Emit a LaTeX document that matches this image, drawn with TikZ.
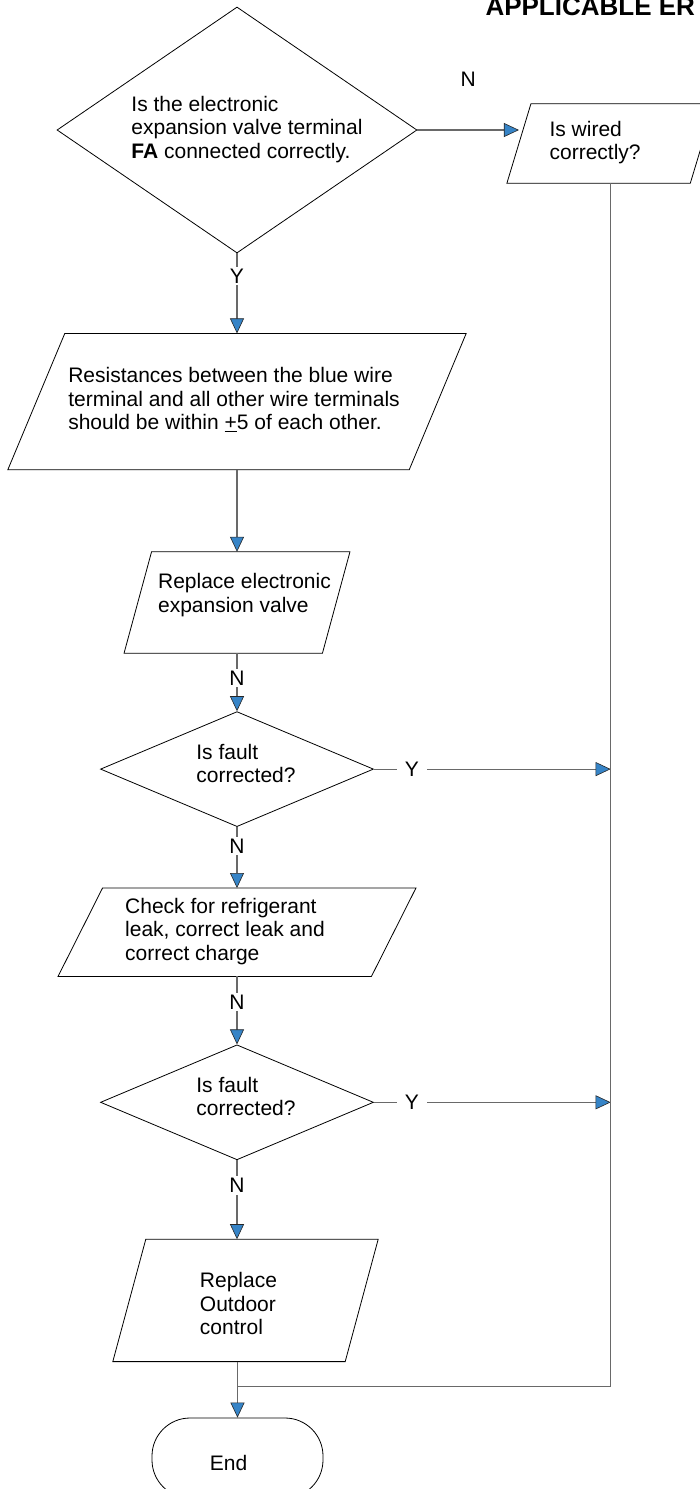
\documentclass[tikz,border=0pt]{standalone}
\usepackage{fontspec}
\setmainfont{Liberation Sans}
\usepackage{tikz}
\usetikzlibrary{shapes, arrows.meta, positioning, calc}
\definecolor{flow-blue}{RGB}{54,132,199}
\definecolor{flow-line}{RGB}{105,105,105}
% text block with extra room on the left (#1) and right (#2)
\newcommand{\shiftlines}[3]{\begin{tabular}{@{\hspace{#1}}l@{\hspace{#2}}}#3\end{tabular}}
% slanted outline round a box node, top edge pushed right by #2, bottom edge left by #2
\newcommand{\slantbox}[2]{\draw[boxline] ($(#1.south west)+(-#2,0)$) -- ($(#1.south east)+(-#2,0)$) -- ($(#1.north east)+(#2,0)$) -- ($(#1.north west)+(#2,0)$) -- cycle;}

\begin{document}
\begin{tikzpicture}[
    x=1pt, y=1pt,
    font=\fontsize{21}{23.5}\selectfont,
    boxline/.style={draw=black, line width=0.8pt},
    decide/.style={diamond, boxline, inner sep=0pt},
    pbox/.style={rectangle, inner sep=0pt},
    term/.style={rectangle, rounded corners=38pt, boxline, inner sep=0pt, minimum width=171pt, minimum height=80pt},
    conn/.style={draw=flow-line, line width=1.2pt},
    arrow/.style={conn, -{Triangle[length=15pt, width=14pt, fill=flow-blue, color=black!85, line width=0.6pt]}},
    yn/.style={fill=white, inner xsep=8pt, inner ysep=2pt}
]
    \useasboundingbox (0,0) rectangle (700,-1489);
    \clip (0,0) rectangle (700,-1489);

    \node[font=\fontsize{26}{30}\selectfont\bfseries, anchor=base west] (title) at (482,-15) {APPLICABLE ER};

    \node[decide, minimum width=360pt, minimum height=246pt, aspect=1.48] (valve) at (237,-130) {\shiftlines{20pt}{0pt}{Is the electronic\\expansion valve terminal\\\textbf{FA} connected correctly.}};
    \node[pbox, minimum width=183pt, minimum height=79pt, right=101.5pt of valve, yshift=-13.5pt] (wired) {\shiftlines{0pt}{31pt}{Is wired\\correctly?}};
    \node[pbox, minimum width=401pt, minimum height=136pt, below=80pt of valve] (resist) {\shiftlines{0pt}{6pt}{Resistances between the blue wire\\terminal and all other wire terminals\\should be within \underline{+}5 of each other.}};
    \node[pbox, minimum width=198pt, minimum height=101pt, below=82pt of resist] (replvalve) {\shiftlines{15pt}{0pt}{Replace electronic\\expansion valve\\[13pt]}};
    \node[decide, minimum width=273pt, minimum height=115pt, aspect=2.37, below=58pt of replvalve] (fault1) {\shiftlines{18pt}{0pt}{Is fault\\corrected?\\[6pt]}};
    \node[pbox, minimum width=313pt, minimum height=88pt, below=61pt of fault1] (leak) {\shiftlines{0pt}{24pt}{Check for refrigerant\\leak, correct leak and\\correct charge}};
    \node[decide, minimum width=273pt, minimum height=115pt, aspect=2.37, below=68pt of leak] (fault2) {\shiftlines{18pt}{0pt}{Is fault\\corrected?\\[6pt]}};
    \node[pbox, minimum width=232pt, minimum height=122pt, below=79pt of fault2, xshift=8.5pt] (replctrl) {\shiftlines{0pt}{14pt}{\rule{0pt}{28.45pt}Replace\\Outdoor\\control}};
    \node[term, below=56pt of replctrl, xshift=-8pt] (end) {\shiftlines{0pt}{18pt}{\rule{0pt}{32pt}End}};
    \coordinate[above=31pt of end.north] (join);

    % slanted outlines
    \slantbox{wired}{12}
    \slantbox{resist}{28.5}
    \slantbox{replvalve}{13.75}
    \slantbox{leak}{22.25}
    \slantbox{replctrl}{16.5}

    \draw[arrow] (valve.south) -- node[yn, pos=0.28] {Y} (resist.north);
    \draw[arrow] (valve.east) -- node[yn, midway, above=41pt] {N} (valve.east -| wired.west);
    \draw[arrow] (resist.south) -- (replvalve.north);
    \draw[arrow] (replvalve.south) -- node[yn, pos=0.43] {N} (fault1.north);
    \draw[arrow] (fault1.south) -- node[yn, pos=0.31] {N} (leak.north);
    \draw[arrow] (fault1.east) -- node[yn, pos=0.16] {Y} (fault1.east -| wired.south);
    \draw[arrow] (leak.south) -- node[yn, pos=0.38] {N} (fault2.north);
    \draw[arrow] (fault2.east) -- node[yn, pos=0.16] {Y} (fault2.east -| wired.south);
    \draw[arrow] (fault2.south) -- node[yn, pos=0.32] {N} (fault2.south |- replctrl.north);
    \draw[arrow] (end.north |- replctrl.south) -- (end.north);
    \draw[conn] (wired.south) |- (join);
\end{tikzpicture}
\end{document}
